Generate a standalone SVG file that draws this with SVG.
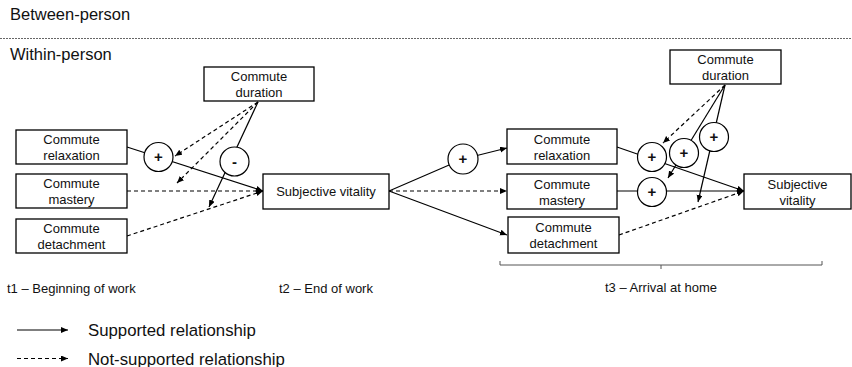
<svg xmlns="http://www.w3.org/2000/svg" width="852" height="367" viewBox="0 0 852 367">
<defs>
<marker id="ah" markerUnits="userSpaceOnUse" markerWidth="8" markerHeight="7" refX="7" refY="3" orient="auto">
<path d="M0,0 L7,3 L0,6 z" fill="#000"/>
</marker>
<style>
text{font-family:"Liberation Sans",Arial,sans-serif;fill:#111}
.h{font-size:16.5px}
.l{font-size:13px;text-anchor:middle}
.t{font-size:13px}
.lg{font-size:16.8px}
.box{fill:#fff;stroke:#000;stroke-width:1.3}
.c{fill:#fff;stroke:#000;stroke-width:1.2}
.sg{font-size:15px;font-weight:bold;text-anchor:middle}
.s{fill:none;stroke:#000;stroke-width:1.2;marker-end:url(#ah)}
.d{fill:none;stroke:#000;stroke-width:1.2;stroke-dasharray:4 3;marker-end:url(#ah)}
.sl{fill:none;stroke:#000;stroke-width:1.2}
</style>
</defs>
<rect width="852" height="367" fill="#fff"/>
<text class="h" x="10" y="20">Between-person</text>
<line x1="0" y1="38.5" x2="852" y2="38.5" stroke="#666" stroke-width="1" stroke-dasharray="2 1"/>
<text class="h" x="10" y="60">Within-person</text>

<g id="connectors">
<!-- left -->
<line class="s" x1="127" y1="147" x2="263" y2="191"/>
<line class="d" x1="127" y1="191" x2="263" y2="191"/>
<line class="d" x1="127" y1="236" x2="263" y2="191"/>
<line class="d" x1="258" y1="102" x2="175" y2="156"/>
<line class="d" x1="258" y1="102" x2="177" y2="183"/>
<line class="s" x1="258" y1="102" x2="209" y2="207"/>
<!-- middle -->
<polyline class="sl" points="389,191 463,159"/>
<line class="s" x1="463" y1="159" x2="507" y2="148"/>
<line class="d" x1="389" y1="191" x2="507" y2="191"/>
<line class="s" x1="389" y1="191" x2="507" y2="235"/>
<!-- right -->
<line class="s" x1="617" y1="147" x2="744" y2="191"/>
<line class="s" x1="617" y1="191" x2="744" y2="191"/>
<line class="d" x1="619" y1="235" x2="744" y2="191"/>
<line class="d" x1="725" y1="85" x2="663" y2="143"/>
<line class="s" x1="725" y1="85" x2="668" y2="178"/>
<line class="s" x1="725" y1="85" x2="698" y2="202"/>
</g>

<g id="relax1"><rect class="box" x="16" y="130" width="111" height="34"/><text class="l" x="71.5" y="144">Commute</text><text class="l" x="71.5" y="160">relaxation</text></g>
<g id="mastery1"><rect class="box" x="16" y="174" width="111" height="34"/><text class="l" x="71.5" y="188">Commute</text><text class="l" x="71.5" y="204">mastery</text></g>
<g id="detach1"><rect class="box" x="16" y="219" width="111" height="34"/><text class="l" x="71.5" y="233">Commute</text><text class="l" x="71.5" y="249">detachment</text></g>
<g id="duration1"><rect class="box" x="204" y="67" width="110" height="34"/><text class="l" x="259" y="81">Commute</text><text class="l" x="259" y="97">duration</text></g>
<g id="vitality2"><rect class="box" x="263" y="174" width="126" height="35"/><text class="l" x="326" y="196">Subjective vitality</text></g>

<g id="relax3"><rect class="box" x="507" y="129" width="110" height="35"/><text class="l" x="562" y="143.5">Commute</text><text class="l" x="562" y="159.5">relaxation</text></g>
<g id="mastery3"><rect class="box" x="507" y="174" width="110" height="35"/><text class="l" x="562" y="188.5">Commute</text><text class="l" x="562" y="204.5">mastery</text></g>
<g id="detach3"><rect class="box" x="508" y="217" width="111" height="36"/><text class="l" x="563.5" y="232">Commute</text><text class="l" x="563.5" y="248">detachment</text></g>
<g id="duration3"><rect class="box" x="670" y="50" width="111" height="34"/><text class="l" x="725.5" y="64">Commute</text><text class="l" x="725.5" y="80">duration</text></g>
<g id="vitality3"><rect class="box" x="744" y="174" width="107" height="35"/><text class="l" x="797.5" y="188.5">Subjective</text><text class="l" x="797.5" y="204.5">vitality</text></g>

<g id="sign-l1"><circle class="c" cx="158.5" cy="157" r="14.5"/><text class="sg" x="158.5" y="162">+</text></g>
<g id="sign-l2"><circle class="c" cx="234.5" cy="161.5" r="14.5"/><text class="sg" x="234.5" y="166.5">-</text></g>
<g id="sign-m1"><circle class="c" cx="463" cy="159" r="15"/><text class="sg" x="463" y="164">+</text></g>
<g id="sign-r1"><circle class="c" cx="652" cy="157" r="14.5"/><text class="sg" x="652" y="162">+</text></g>
<g id="sign-r2"><circle class="c" cx="684" cy="153" r="14.5"/><text class="sg" x="684" y="158">+</text></g>
<g id="sign-r3"><circle class="c" cx="714" cy="137" r="14.5"/><text class="sg" x="714" y="142">+</text></g>
<g id="sign-r4"><circle class="c" cx="652" cy="192" r="14.5"/><text class="sg" x="652" y="197">+</text></g>

<path d="M500,261 V265 H822 V261 M661,265 V269" fill="none" stroke="#555" stroke-width="1"/>
<text class="t" x="7" y="293">t1 – Beginning of work</text>
<text class="t" x="279" y="293">t2 – End of work</text>
<text class="t" x="605" y="292">t3 – Arrival at home</text>

<g id="legend">
<line class="s" x1="17" y1="330" x2="68" y2="330"/>
<text class="lg" x="88" y="336">Supported relationship</text>
<line class="d" x1="17" y1="358.5" x2="68" y2="358.5" stroke-dasharray="3 2"/>
<text class="lg" x="88" y="364.5">Not-supported relationship</text>
</g>
</svg>
